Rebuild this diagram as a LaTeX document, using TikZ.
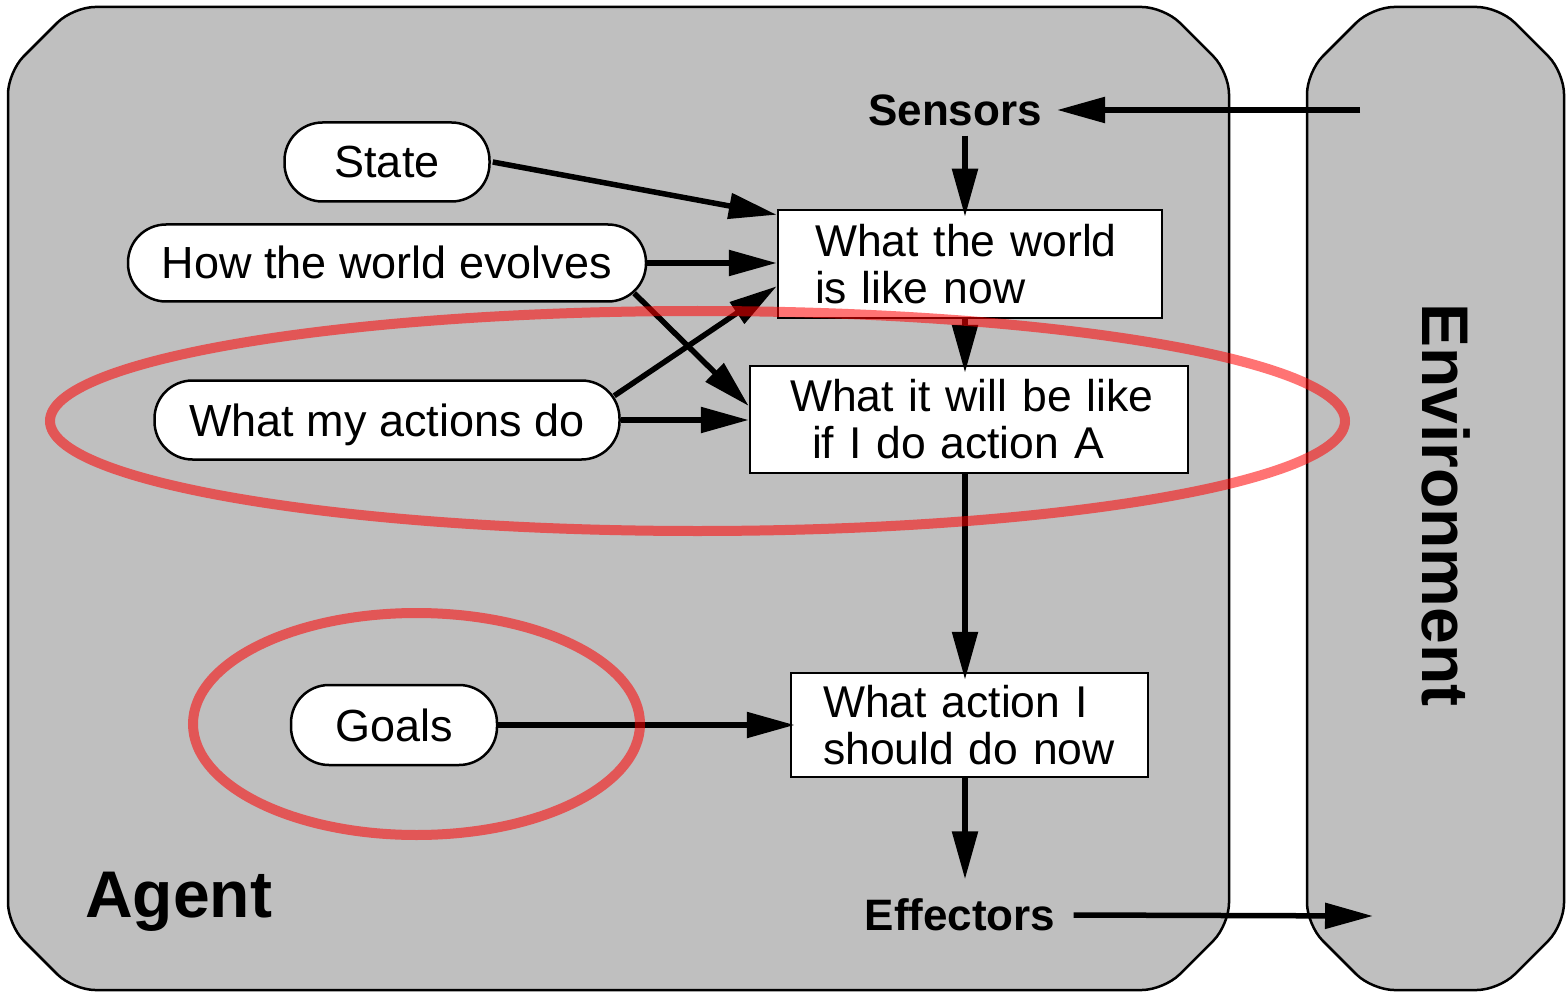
\documentclass[tikz,border=0pt]{standalone}
\usepackage{fontspec}
\setmainfont{Liberation Sans}
\usetikzlibrary{arrows.meta}
\definecolor{panelgray}{RGB}{191,191,191}
\begin{document}
\begin{tikzpicture}[x=1pt,y=-1pt,
  panel/.style={draw=black, fill=panelgray, line width=2.5pt, rounded corners=22pt},
  pill/.style={draw, fill=white, line width=2.5pt, rounded corners=38pt, inner sep=0pt,
    text height=32pt, text depth=0pt, font=\fontsize{45pt}{47pt}\selectfont},
  box/.style={draw, fill=white, line width=2.5pt, inner ysep=0pt, align=left,
    font=\fontsize{44.5pt}{47pt}\selectfont},
  lbl/.style={font=\bfseries\fontsize{44pt}{46pt}\selectfont, inner sep=0pt,
    text height=31pt, text depth=0pt},
  arr/.style={line width=5.5pt, -{Triangle[length=48pt,width=25pt]}},
  hl/.style={draw=red, draw opacity=0.55, line width=10pt}
]
\useasboundingbox (0,0) rectangle (1566,992);

% panels
\path[panel] (8,72) -- (73,7) -- (1164,7) -- (1229,72) -- (1229,925) -- (1164,990) -- (73,990) -- (8,925) -- cycle;
\path[panel] (1307,72) -- (1372,7) -- (1499,7) -- (1564,72) -- (1564,925) -- (1499,990) -- (1372,990) -- (1307,925) -- cycle;

\node[font=\bfseries\fontsize{66pt}{68pt}\selectfont, inner sep=0pt, anchor=base west] (agent) at (85,917) {Agent};
\node[font=\bfseries\fontsize{66pt}{68pt}\selectfont, inner sep=0pt, anchor=base west, rotate=-90] (env) at (1422,303) {Environment};

% pills
\node[pill, minimum width=205pt, minimum height=79pt] (state) at (387,162) {State};
\node[pill, minimum width=518pt, minimum height=77pt] (evolves) at (387,263) {How the world evolves};
\node[pill, minimum width=465pt, minimum height=79pt] (actions) at (387,420) {What my actions do};
\node[pill, minimum width=206pt, minimum height=80pt] (goals) at (394,725) {Goals};

% boxes
\node[box, minimum width=384pt, minimum height=108pt, text width=310pt, inner xsep=37pt] (now) at (970,264) {\mbox{What the world}\\\mbox{is like now}};
\node[box, minimum width=438pt, minimum height=107pt, text width=358pt, inner xsep=40pt] (future) at (969,419.5) {\mbox{What it will be like}\\\mbox{\hspace*{22pt}if I do action A}};
\node[box, minimum width=357pt, minimum height=104pt, text width=293pt, inner xsep=32pt] (decide) at (969.5,725) {\mbox{What action I}\\\mbox{should do now}};

% labels
\node[lbl] (sensors) at (955,110) {Sensors};
\node[lbl] (effectors) at (960,915) {Effectors};

\coordinate (spine) at (965,0);
\coordinate (envin) at (1360,110);
\coordinate (envout) at (1373,916);

% connectors
\draw[arr] (envin) -- ([xshift=15pt]sensors.east);
\draw[arr, shorten >=-8pt] ([yshift=-10pt]sensors.south -| spine) -- (now.north -| spine);
\draw[arr] ([xshift=2pt]state.east) -- ([yshift=-6pt]now.north west);
\draw[arr] (evolves.east) -- (evolves.east -| now.west);
\draw[arr] ([xshift=-13pt,yshift=9.5pt]evolves.south east) -- ([yshift=13.5pt]future.west);
\draw[arr] ([xshift=-6.5pt,yshift=-16.5pt]actions.north east) -- ([yshift=33pt]now.south west);
\draw[arr] (actions.east) -- (actions.east -| future.west);
\draw[arr, shorten >=-8pt] (now.south -| spine) -- (future.north -| spine);
\draw[arr, shorten >=-8pt] (future.south -| spine) -- (decide.north -| spine);
\draw[arr, shorten >=-5pt] (goals.east) -- (goals.east -| decide.west);
\draw[arr, shorten >=20pt] (decide.south -| spine) -- (effectors.north -| spine);
\draw[arr] ([xshift=18pt]effectors.east) -- (envout);

% highlights
\path[hl] (697.5,421) ellipse [x radius=647.5, y radius=110];
\path[hl] (416.5,724) ellipse [x radius=223.5, y radius=111];
\end{tikzpicture}
\end{document}
